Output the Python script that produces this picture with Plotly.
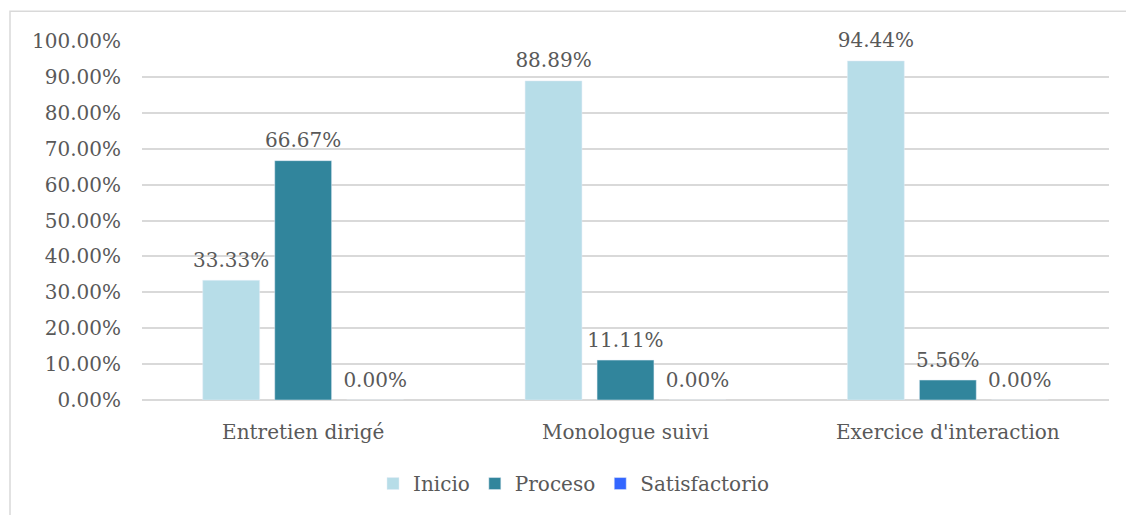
import plotly.graph_objects as go

categories = ["Entretien dirigé", "Monologue suivi", "Exercice d'interaction"]
inicio = [0.3333, 0.8889, 0.9444]
proceso = [0.6667, 0.1111, 0.0556]
satisfactorio = [0.0, 0.0, 0.0]
y_ticks = [0.0, 0.1, 0.2, 0.3, 0.4, 0.5, 0.6, 0.7, 0.8, 0.9, 1.0]

FONT = "DejaVu Serif"
TXT = "#595959"
series = [("Inicio", inicio, "#B7DDE8"),
          ("Proceso", proceso, "#31859C"),
          ("Satisfactorio", satisfactorio, "#3366FF")]

fig = go.Figure()
for name, vals, col in series:
    fig.add_trace(go.Bar(
        x=categories, y=vals, name=name, marker_color=col,
        offsetgroup=name,
    ))
for name, vals, col in series:
    fig.add_trace(go.Scatter(
        x=categories, y=vals, mode="markers+text", offsetgroup=name,
        marker=dict(size=12, opacity=0), showlegend=False,
        texttemplate="%{y:.2%}", textposition="top center",
        textfont=dict(family=FONT, size=20, color=TXT),
        cliponaxis=False, hoverinfo="skip",
    ))

L, R, T, B = 142, 17, 41, 113
W, H = 1126, 515
pw, ph = W - L - R, H - T - B

fig.update_layout(
    width=W, height=H,
    margin=dict(l=L, r=R, t=T, b=B),
    paper_bgcolor="white", plot_bgcolor="white",
    barmode="group", bargap=0.33, bargroupgap=0.21,
    scattermode="group", scattergap=0.33,
    font=dict(family=FONT, size=20, color=TXT),
    showlegend=True,
    legend=dict(orientation="h", x=(574 - L) / pw, xanchor="center",
                y=(402 - 486) / ph, yanchor="middle",
                font=dict(family=FONT, size=20, color=TXT),
                itemwidth=30, tracegroupgap=0),
    shapes=[dict(type="rect", xref="paper", yref="paper",
                 x0=(10 - L) / pw, x1=(1140 - L) / pw,
                 y0=(402 - 530) / ph, y1=(402 - 11) / ph,
                 line=dict(color="#D9D9D9", width=1.5), layer="below")],
)
fig.update_yaxes(range=[0, 1.0], tickvals=y_ticks, tickformat=".2%",
                 showgrid=True, gridcolor="#D9D9D9", gridwidth=1.5,
                 zeroline=True, zerolinecolor="#D9D9D9", zerolinewidth=1.5,
                 showline=False, ticks="", ticklabelstandoff=20,
                 tickfont=dict(family=FONT, size=20, color=TXT))
fig.update_xaxes(showline=False, ticks="", ticklabelstandoff=18,
                 tickfont=dict(family=FONT, size=20, color=TXT))

fig.write_html("out.html")
